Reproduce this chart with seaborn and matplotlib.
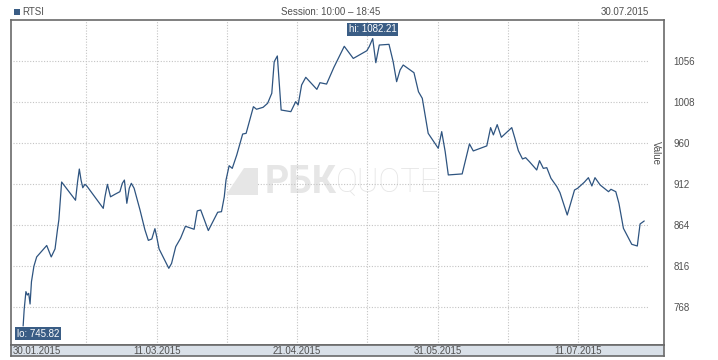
import numpy as np
import pandas as pd
import matplotlib
matplotlib.use('Agg')
import matplotlib.pyplot as plt
from matplotlib.patches import Polygon
import seaborn as sns

# RTSI index, 30.01.2015 - 30.07.2015
start = pd.Timestamp('2015-01-30')

# elapsed days since 30.01.2015
days = [2.0, 2.3, 2.8, 3.2, 3.6, 4.0, 4.4, 5.1, 5.9, 7.3, 8.8, 10.1, 11.2, 11.9, 12.3,
        13.1, 17.1, 17.7, 18.2, 18.7, 19.2, 19.8, 20.3, 25.1, 25.6, 26.3, 27.2, 28.5,
        29.9, 30.6, 31.2, 31.9, 32.6, 33.2, 34.0, 35.7, 37.1, 38.1, 39.1, 40.0, 40.5,
        41.2, 44.0, 44.8, 46.0, 47.4, 48.8, 51.3, 52.2, 53.2, 55.4, 58.1, 59.2, 60.0,
        60.5, 61.4, 62.3, 63.6, 65.3, 66.3, 68.4, 69.3, 71.2, 72.5, 73.7, 74.4, 75.3,
        76.4, 79.2, 80.6, 81.3, 82.3, 83.5, 86.7, 87.6, 89.5, 91.6, 94.6, 97.2, 101.1,
        101.8, 102.8, 103.7, 104.7, 107.5, 108.7, 109.7, 110.7, 111.6, 114.7, 116.0,
        117.1, 118.8, 121.1, 121.7, 122.7, 123.7, 124.6, 128.6, 130.7, 131.8, 135.7,
        136.8, 137.6, 138.7, 139.9, 142.9, 143.8, 144.8, 146.0, 146.9, 148.0, 150.1,
        150.9, 152.0, 153.0, 154.2, 155.9, 156.8, 158.9, 161.0, 161.9, 163.8, 165.0,
        166.0, 166.9, 168.4, 170.8, 171.5, 172.9, 173.8, 175.1, 177.5, 179.1, 179.9,
        181.1]

rtsi = [745.82, 765, 786, 782, 784, 771.5, 797.6, 815.6, 826.6, 833, 840, 826.6, 836,
        858.6, 870, 914.3, 893, 914.7, 929.5, 916.6, 907.6, 911.6, 910, 883.5, 897,
        911.6, 897, 900, 903, 912.8, 916.6, 889.4, 907, 912.8, 907, 881.6, 858.6, 846,
        847.6, 859.7, 850.6, 836, 813.3, 819, 838.6, 848.5, 862.5, 859, 880.5, 881.6,
        857.5, 878.9, 879.6, 897, 916.6, 933.4, 930.3, 946, 970.5, 971.3, 1002.5, 999.5,
        1001.8, 1006.5, 1018.2, 1055.2, 1061.9, 998.6, 996.7, 1008.4, 1004.5, 1027.9,
        1036.9, 1022.8, 1030.6, 1029, 1048.5, 1073.2, 1059, 1068, 1072.8, 1082.21, 1054,
        1074.7, 1075.5, 1055.2, 1031.8, 1045.5, 1051.3, 1042.3, 1020, 1012.3, 971.3,
        957.6, 953.8, 973.3, 949.9, 922.6, 923.8, 958.9, 950.7, 956.6, 978, 969.5, 981.5,
        966.7, 978, 965.5, 951, 941.3, 942.8, 938.1, 928.4, 939.3, 930.3, 931.1, 918.7,
        908.9, 901.9, 875.7, 905, 907, 914, 919.4, 909.7, 919.4, 910.8, 903, 905.8, 903,
        889.4, 860.1, 841.4, 839.4, 865.2, 868.7]

y_ticks = [768, 816, 864, 912, 960, 1008, 1056]

df = pd.DataFrame({'date': start + pd.to_timedelta(days, unit='D'), 'value': rtsi})

sns.set_style('white')
plt.rcParams['font.family'] = ['Liberation Sans', 'DejaVu Sans']

line_col = '#2e5480'
frame_col = '#6a6a6a'
text_col = '#505050'
grid_col = '#c4c4c4'

fig = plt.figure(figsize=(7.18, 3.6), dpi=100)
ax = fig.add_axes([11/718, 15/360, 653/718, 325/360])
band = fig.add_axes([11/718, 4/360, 653/718, 11/360], sharex=ax)

x_lo = start - pd.Timedelta(days=1.5)
x_hi = start + pd.Timedelta(days=186.8)

# watermark
ax.text(0.388, 0.50, 'РБК', transform=ax.transAxes, family='Roboto', fontweight='bold',
        fontsize=27, color='#e6e6e6', ha='left', va='center', zorder=0)
ax.text(0.497, 0.50, 'QUOTE', transform=ax.transAxes, family='Roboto', fontweight='light',
        fontsize=23.5, color='#e6e6e6', ha='left', va='center', zorder=0)
logo = Polygon([(226/718, 1-195/360), (244/718, 1-168/360), (258/718, 1-168/360),
                (258/718, 1-195/360)], closed=True, transform=fig.transFigure,
               facecolor='#e6e6e6', edgecolor='none', zorder=0)
fig.patches.append(logo)

sns.lineplot(data=df, x='date', y='value', ax=ax, color=line_col, linewidth=0.9, zorder=3)

ax.set_xlim(x_lo, x_hi)
ax.set_ylim(723.5, 1104)

# grid
grid_ticks = [start + pd.Timedelta(days=20.25 * k) for k in range(1, 9)]
for t in grid_ticks:
    ax.axvline(t, color=grid_col, linestyle=(0, (1, 1.5)), linewidth=0.8, zorder=1)
for v in y_ticks:
    ax.axhline(v, xmin=0.003, xmax=0.977, color=grid_col, linestyle=(0, (1, 1.5)),
               linewidth=0.8, zorder=1)

ax.set_xticks(grid_ticks)
ax.tick_params(axis='x', length=0, labelbottom=False)
ax.yaxis.tick_right()
ax.set_yticks(y_ticks)
ax.set_yticklabels([str(v) for v in y_ticks])
ax.tick_params(axis='y', length=0, pad=7, labelsize=7, labelcolor=text_col)
ax.set_xlabel('')
ax.set_ylabel('')
ax.text(0.988, 0.59, 'Value', transform=ax.transAxes, rotation=270, fontsize=7,
        color=text_col, ha='center', va='center')

for s in ax.spines.values():
    s.set_color(frame_col)
    s.set_linewidth(1.2)

# hi / lo labels
i_hi = int(np.argmax(rtsi))
i_lo = int(np.argmin(rtsi))
box = dict(boxstyle='square,pad=0.15', facecolor='#3a5d85', edgecolor='none')
ax.annotate(f'hi: {rtsi[i_hi]:.2f}', (df['date'][i_hi], rtsi[i_hi]), xytext=(0, 3),
            textcoords='offset points', ha='center', va='bottom', color='white',
            fontsize=7, bbox=box, zorder=5)
ax.annotate(f'lo: {rtsi[i_lo]:.2f}', (df['date'][i_lo], rtsi[i_lo]), xytext=(-4.5, -2),
            textcoords='offset points', ha='left', va='top', color='white',
            fontsize=7, bbox=box, zorder=5)

# date band
band.set_facecolor('#d9e0e8')
band.set_yticks([])
band.tick_params(axis='x', length=0, labelbottom=False)
for s in band.spines.values():
    s.set_color(frame_col)
    s.set_linewidth(1.2)
band.text(start - pd.Timedelta(days=1.0), 0.45, start.strftime('%d.%m.%Y'), ha='left',
          va='center', fontsize=7, color=text_col)
for t in grid_ticks[1::2]:
    band.text(t, 0.45, t.strftime('%d.%m.%Y'), ha='center', va='center', fontsize=7,
              color=text_col)

# header
fig.patches.append(plt.Rectangle((14/718, 1-15/360), 6/718, 6/360, transform=fig.transFigure,
                                 facecolor='#3a5d85', edgecolor='none'))
fig.text(22/718, 1-12/360, 'RTSI', fontsize=7, color=text_col, ha='left', va='center')
fig.text(331/718, 1-12/360, 'Session: 10:00 – 18:45', fontsize=7, color=text_col,
         ha='center', va='center')
fig.text(649/718, 1-12/360, df['date'].iloc[-1].strftime('%d.%m.%Y'), fontsize=7,
         color=text_col, ha='right', va='center')

fig.savefig('out.png', dpi=100)
